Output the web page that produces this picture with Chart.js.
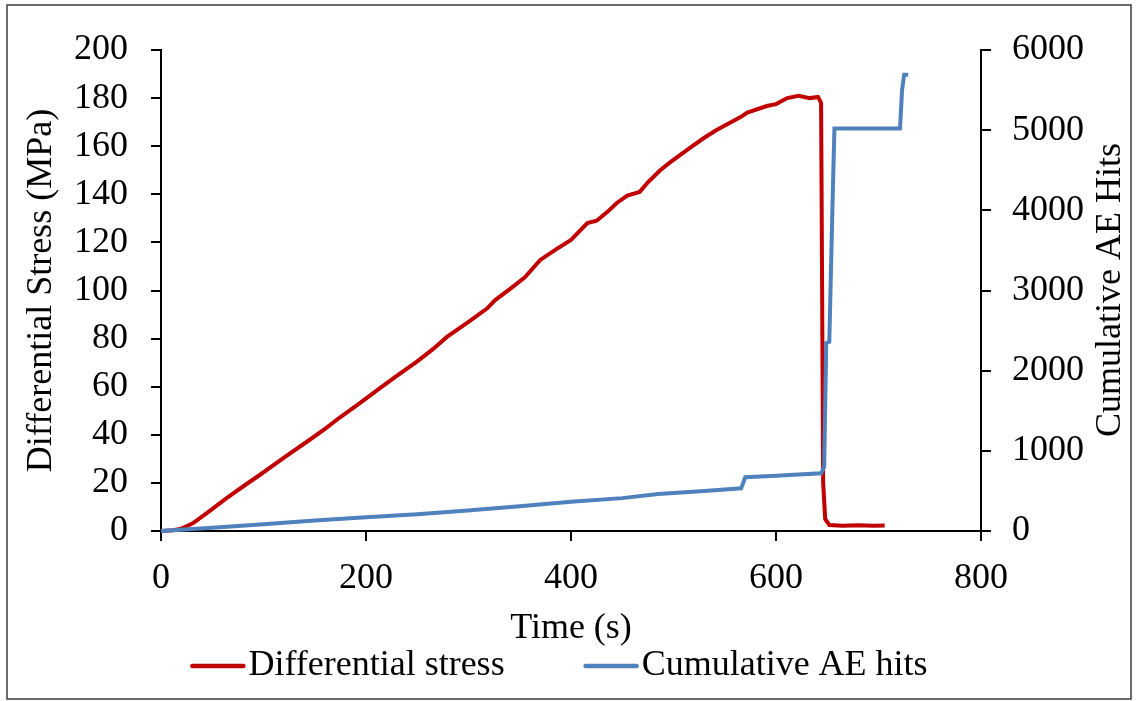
<!DOCTYPE html>
<html>
<head>
<meta charset="utf-8">
<script src="https://cdn.jsdelivr.net/npm/chart.js@4"></script>
<style>
    html, body { margin: 0; padding: 0; background: #fff; }
    #wrap { width: 1138px; height: 701px; }
</style>
</head>
<body>
<div id="wrap"><canvas id="stressChart" width="1138" height="701"></canvas></div>
<script>
// stress curve (time in s, differential stress in MPa)
const stressTime = [0, 12, 20, 31, 45, 64, 80, 97, 120, 142, 160, 175, 194, 211, 230, 250, 265, 279, 300, 318, 326, 340, 355, 370, 385, 400, 416, 425, 435, 445, 455, 467, 475, 487, 497, 516, 530, 542, 556, 565, 572, 591, 600, 611, 622, 633, 641, 644, 645, 646, 648, 652, 665, 680, 695, 706];
const stressValues = [0, 0.3, 1, 3.2, 7.5, 13.7, 18.5, 23.5, 30.5, 37, 42.5, 47.4, 53.2, 58.6, 64.5, 70.5, 75.5, 80.7, 87, 92.5, 96, 100.5, 105.5, 112.7, 117, 121, 128, 129, 132.5, 136.5, 139.5, 141, 145, 150, 153.4, 159.3, 163.5, 166.7, 170, 172, 174, 176.7, 177.5, 180, 181, 180, 180.5, 178, 100, 20, 5, 2.5, 2.2, 2.4, 2.2, 2.3];

// cumulative acoustic emission hits
const aeTime = [0, 50, 100, 150, 200, 250, 296, 350, 400, 450, 485, 530, 566, 568, 570, 600, 644, 647, 649, 652, 655, 657, 690, 721, 723, 725, 729];
const aeHits = [0, 40, 85, 130, 171, 210, 253, 310, 365, 410, 461, 500, 533, 600, 670, 690, 720, 800, 2345, 2360, 4000, 5020, 5020, 5020, 5500, 5690, 5690];

const FONT = 'Liberation Serif, Times New Roman, serif';

function toPoints(xs, ys) {
    return xs.map((x, i) => ({ x: x, y: ys[i] }));
}

// white page with a thin frame, right title read bottom-to-top, and a hand drawn legend
const framePlugin = {
    id: 'frame',
    beforeDraw(chart) {
        const ctx = chart.ctx;
        ctx.save();
        ctx.fillStyle = '#fff';
        ctx.fillRect(0, 0, chart.width, chart.height);
        ctx.restore();
    },
    afterDraw(chart) {
        const ctx = chart.ctx;
        ctx.save();
        ctx.strokeStyle = '#3a3a3a';
        ctx.lineWidth = 1.5;
        ctx.strokeRect(7, 5, 1124, 694);

        // right axis title
        ctx.fillStyle = '#000';
        ctx.font = '36px ' + FONT;
        ctx.textAlign = 'center';
        ctx.textBaseline = 'middle';
        ctx.translate(1111, 290);
        ctx.rotate(-Math.PI / 2);
        ctx.fillText('Cumulative AE Hits', 0, 0);
        ctx.restore();

        // legend
        ctx.save();
        ctx.font = '36px ' + FONT;
        ctx.textBaseline = 'middle';
        ctx.textAlign = 'left';
        const items = chart.data.datasets;
        const lineLen = 55, gap = 3, itemGap = 79;
        let total = 0;
        items.forEach((d, i) => {
            total += lineLen + gap + ctx.measureText(d.label).width;
            if (i < items.length - 1) total += itemGap;
        });
        let x = 559 - total / 2;
        const y = 666;
        items.forEach(d => {
            ctx.strokeStyle = d.borderColor;
            ctx.lineWidth = 4.5;
            ctx.lineCap = 'round';
            ctx.beginPath();
            ctx.moveTo(x + 2, y);
            ctx.lineTo(x + lineLen - 2, y);
            ctx.stroke();
            x += lineLen + gap;
            ctx.fillStyle = '#000';
            ctx.fillText(d.label, x, y);
            x += ctx.measureText(d.label).width + itemGap;
        });
        ctx.restore();
    }
};

const axisLine = { color: '#000', width: 2 };
const tickGrid = { drawOnChartArea: false, drawTicks: true, tickLength: 10, color: '#000', lineWidth: 2 };

const ctx = document.getElementById('stressChart').getContext('2d');
const chart = new Chart(ctx, {
    type: 'line',
    data: {
        datasets: [{
            label: 'Differential stress',
            data: toPoints(stressTime, stressValues),
            borderColor: '#C00000',
            borderWidth: 4,
            pointRadius: 0,
            tension: 0,
            yAxisID: 'y',
            order: 1,
            clip: false,
        }, {
            label: 'Cumulative AE hits',
            data: toPoints(aeTime, aeHits),
            borderColor: '#4F81BD',
            borderWidth: 4,
            pointRadius: 0,
            tension: 0,
            yAxisID: 'y1',
            order: 0,
            clip: false,
        }],
    },
    options: {
        responsive: false,
        animation: false,
        events: [],
        layout: { padding: { top: 50, left: 0, right: 0, bottom: 0 } },
        plugins: {
            legend: { display: false },
            tooltip: { enabled: false },
        },
        scales: {
            x: {
                type: 'linear',
                min: 0,
                max: 800,
                border: axisLine,
                grid: tickGrid,
                ticks: { stepSize: 200, color: '#000', padding: 16, font: { family: FONT, size: 36 } },
                title: {
                    display: true,
                    text: 'Time (s)',
                    color: '#000',
                    font: { family: FONT, size: 36 },
                    padding: { top: 0, bottom: 51 },
                },
                afterFit(scale) { scale.height = 170; },
            },
            y: {
                position: 'left',
                min: 0,
                max: 200,
                border: axisLine,
                grid: tickGrid,
                ticks: { stepSize: 20, color: '#000', padding: 23, font: { family: FONT, size: 36 } },
                title: {
                    display: true,
                    text: 'Differential Stress (MPa)',
                    color: '#000',
                    font: { family: FONT, size: 36 },
                    padding: { top: 20, bottom: 0 },
                },
                afterFit(scale) { scale.width = 161; },
            },
            y1: {
                position: 'right',
                min: 0,
                max: 6000,
                border: axisLine,
                grid: tickGrid,
                ticks: {
                    stepSize: 1000,
                    color: '#000',
                    padding: 21,
                    font: { family: FONT, size: 36 },
                    callback: (value) => String(value),
                },
                afterFit(scale) { scale.width = 157; },
            },
        },
    },
    plugins: [framePlugin],
});
</script>
</body>
</html>
